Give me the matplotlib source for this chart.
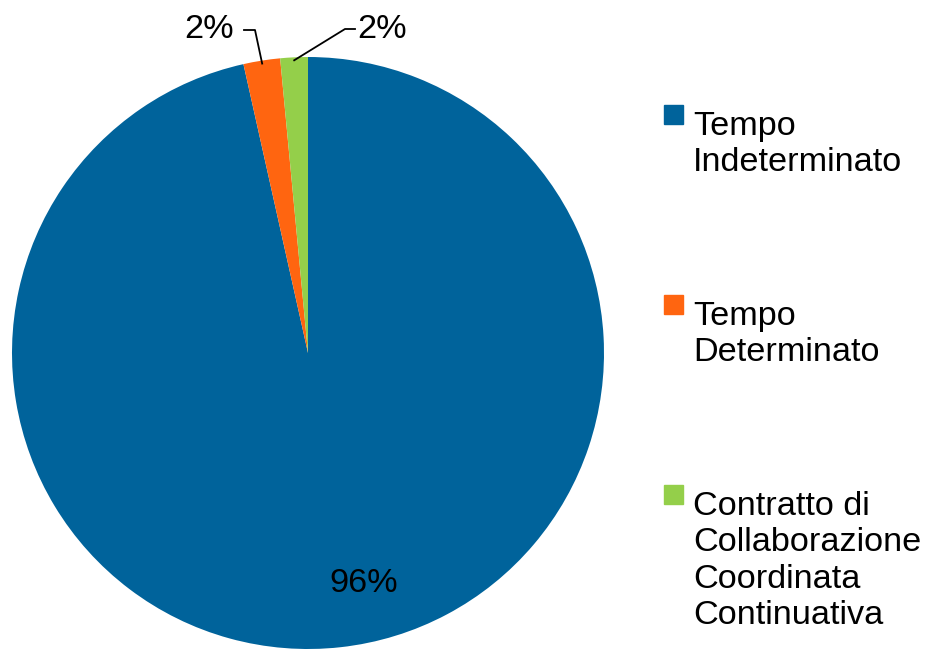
import matplotlib.pyplot as plt
import numpy as np
from matplotlib.patches import Rectangle

plt.rcParams['font.family'] = ['Liberation Sans', 'DejaVu Sans']

labels = ['Tempo\nIndeterminato', 'Tempo\nDeterminato',
          'Contratto di\nCollaborazione\nCoordinata\nContinuativa']
values = [96.5, 2.0, 1.5]
pct_text = ['96%', '2%', '2%']
colors = ['#00639b', '#ff6510', '#94cf4a']

W, H = 926, 649
fig = plt.figure(figsize=(W / 100, H / 100), dpi=100)
ax = fig.add_axes([0, 0, 1, 1])

cx, cy, r = 308, H - 353, 296
wedges, _ = ax.pie(values, colors=colors, startangle=90, counterclock=False,
                   center=(cx, cy), radius=r, frame=True)
ax.set_xlim(0, W)
ax.set_ylim(0, H)
ax.set_aspect('auto')
ax.axis('off')

fs = 24.7

# big slice label
ax.text(364, H - 583, pct_text[0], fontsize=fs, ha='center', va='center')

# small slice labels with leader lines
def mid_point(w, frac=1.0):
    a = np.deg2rad((w.theta1 + w.theta2) / 2)
    return cx + frac * r * np.cos(a), cy + frac * r * np.sin(a)

x0, y0 = mid_point(wedges[1], 0.99)
ax.plot([x0, 255, 244], [y0, H - 30, H - 30], color='black', lw=1.3)
ax.text(234, H - 29, pct_text[1], fontsize=fs, ha='right', va='center')

x0, y0 = mid_point(wedges[2], 0.99)
ax.plot([x0, 345, 355], [y0, H - 29, H - 29], color='black', lw=1.3)
ax.text(357, H - 29, pct_text[2], fontsize=fs, ha='left', va='center')

# legend
for i, (lab, c) in enumerate(zip(labels, colors)):
    top = 105 + i * 190
    ax.add_patch(Rectangle((664, H - top - 19), 19, 19, color=c))
    ax.text(693, H - top - 6, lab, fontsize=fs, ha='left', va='top',
            linespacing=1.22)

fig.savefig('out.png', dpi=100)
